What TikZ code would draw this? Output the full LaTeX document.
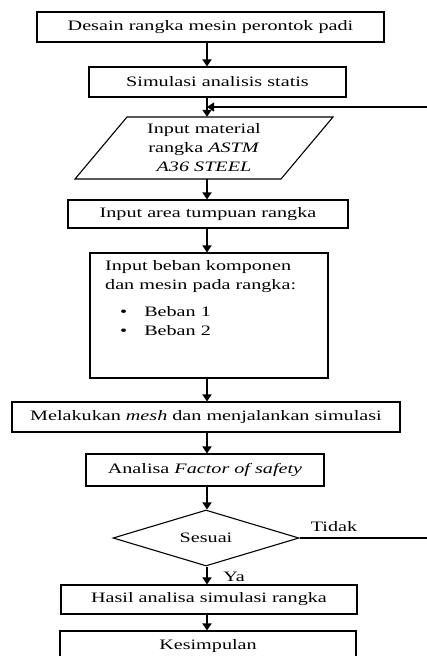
\documentclass[tikz,border=0pt]{standalone}
\usepackage{fontspec}
\setmainfont{Liberation Serif}[FakeStretch=1.4]
\usetikzlibrary{shapes.geometric,arrows.meta}

\begin{document}
\begin{tikzpicture}[x=1pt,y=-1pt]
        \tikzstyle{every node}=[font=\fontsize{14.4}{19}\selectfont]
        \tikzstyle{kotak}=[draw, line width=1.1pt, align=center, inner sep=0pt]
        \tikzstyle{panah}=[line width=1.6pt, -{Triangle[length=7pt,width=9pt]}]

        \useasboundingbox (0,0) rectangle (427,656);
        \coordinate (poros) at (207,0);

        \node[kotak, minimum width=347pt, minimum height=30pt] (desain) at (210.5,27) {Desain rangka mesin perontok padi};
        \node[kotak, minimum width=257pt, minimum height=30pt] (simulasi) at (217.5,82) {Simulasi analisis statis};
        \node[align=center, inner sep=0pt, minimum height=62pt] (material) at (204,148) {Input material\\rangka \textit{ASTM}\\\textit{A36 STEEL}};
        \draw[line width=1.1pt] ([shift={(-129,31)}]material.center) -- ++(52,-62) -- ++(206,0) -- ++(-52,62) -- cycle;
        \node[kotak, minimum width=280pt, minimum height=28pt] (tumpuan) at (208,214) {Input area tumpuan rangka};
        \node[kotak, minimum width=238pt, minimum height=125pt] (beban) at (209,315.5) {};
        \node[anchor=north west, align=left, inner sep=0pt] (bebanteks) at (105,260) {Input beban komponen\\dan mesin pada rangka:\\[8pt]\hspace{15pt}\textbullet\hspace{17pt}Beban 1\\\hspace{15pt}\textbullet\hspace{17pt}Beban 2};
        \node[kotak, minimum width=388pt, minimum height=30pt] (mesh) at (206,417) {Melakukan \textit{mesh} dan menjalankan simulasi};
        \node[kotak, minimum width=238pt, minimum height=32pt] (faktor) at (205,470) {Analisa \textit{Factor of safety}};
        \node[kotak, diamond, aspect=3.3, minimum width=186pt, minimum height=56pt] (sesuai) at (206,538) {Sesuai};
        \node[kotak, minimum width=296pt, minimum height=29pt] (hasil) at (209,599.5) {Hasil analisa simulasi rangka};
        \node[kotak, minimum width=296pt, minimum height=30pt] (kesimpulan) at (208,646) {Kesimpulan};

        \node (tidak) at (334,527) {Tidak};
        \node (ya) at (234,577) {Ya};

        \coordinate (balik) at (207,107);
        \coordinate (kanan) at (432,538);

        \draw[panah] (desain.south -| poros) -- (simulasi.north -| poros);
        \draw[panah] (simulasi.south -| poros) -- (material.north -| poros);
        \draw[panah] (material.south -| poros) -- (tumpuan.north -| poros);
        \draw[panah] (tumpuan.south -| poros) -- (beban.north -| poros);
        \draw[panah] (beban.south -| poros) -- (mesh.north -| poros);
        \draw[panah] (mesh.south -| poros) -- (faktor.north -| poros);
        \draw[panah] (faktor.south -| poros) -- (sesuai.north -| poros);
        \draw[panah] (sesuai.south -| poros) -- (hasil.north -| poros);
        \draw[panah] (hasil.south -| poros) -- (kesimpulan.north -| poros);
        \draw[panah, line width=1.2pt] (sesuai.east) -- (kanan) |- (balik);

\end{tikzpicture}
\end{document}
